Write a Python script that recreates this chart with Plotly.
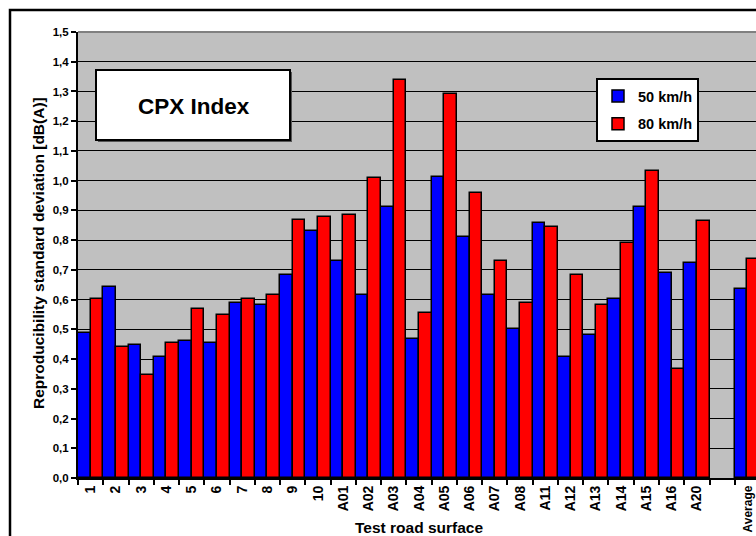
import plotly.graph_objects as go

# Test road surfaces (blank slot separates the average)
surfaces = ["1", "2", "3", "4", "5", "6", "7", "8", "9", "10",
            "A01", "A02", "A03", "A04", "A05", "A06", "A07", "A08",
            "A11", "A12", "A13", "A14", "A15", "A16", "A20", " ", "Average"]

# Reproducibility standard deviation, dB(A)
sd_50 = [0.488, 0.642, 0.447, 0.407, 0.461, 0.454, 0.588, 0.582, 0.682, 0.830,
         0.729, 0.615, 0.910, 0.467, 1.011, 0.810, 0.615, 0.501,
         0.857, 0.407, 0.481, 0.602, 0.910, 0.689, 0.722, None, 0.635]
sd_80 = [0.602, 0.441, 0.347, 0.454, 0.568, 0.548, 0.602, 0.615, 0.869, 0.877,
         0.884, 1.010, 1.340, 0.555, 1.292, 0.957, 0.729, 0.588,
         0.843, 0.682, 0.582, 0.790, 1.031, 0.367, 0.863, None, 0.736]

y_ticks = [i / 10 for i in range(16)]

W, H = 756, 536
L, R, T, B = 78, 0, 32, 58
PW, PH = W - L - R, H - T - B

FONT = "Liberation Sans, Arial, sans-serif"


def px(x):
    return (x - L) / PW


def py(y):
    return (H - B - y) / PH


# the long last label is set a little smaller so it stays on the page
tick_text = [s if s != "Average" else '<span style="font-size:12px">Average</span>'
             for s in surfaces]

fig = go.Figure()
fig.add_trace(go.Bar(
    x=surfaces, y=sd_50, name="50 km/h", legendgroup="a",
    marker=dict(color="#0000FF", line=dict(color="black", width=1.5)),
))
fig.add_trace(go.Bar(
    x=surfaces, y=sd_80, name="80 km/h", legendgroup="b",
    marker=dict(color="#FF0000", line=dict(color="black", width=1.5)),
))

n = len(surfaces)
unit = 25.26
fig.update_layout(
    width=W, height=H,
    margin=dict(l=L, r=R, t=T, b=B, pad=0, autoexpand=False),
    paper_bgcolor="white",
    plot_bgcolor="#C0C0C0",
    barmode="group", bargap=0, bargroupgap=0,
    separators=",.",
    font=dict(family=FONT, color="black", size=12, weight="bold"),
    showlegend=True,
    legend=dict(
        x=px(596), y=py(78), xanchor="left", yanchor="top",
        bgcolor="white", bordercolor="black", borderwidth=2,
        font=dict(family=FONT, size=14.5, weight="bold"),
        tracegroupgap=6,
    ),
    xaxis=dict(
        type="category", categoryorder="array", categoryarray=surfaces,
        tickmode="array", tickvals=surfaces, ticktext=tick_text,
        range=[-0.5, n - 0.5 - (L + n * unit - W) / unit],
        tickson="boundaries", ticks="outside", ticklen=5, tickwidth=1.5,
        tickcolor="black", tickangle=-90, automargin=False,
        tickfont=dict(family=FONT, size=14, weight="bold"),
        showgrid=False, showline=True, linecolor="black", linewidth=2,
        zeroline=False,
    ),
    yaxis=dict(
        range=[0, 1.5], tickvals=y_ticks, tickformat=".1f", automargin=False,
        ticks="outside", ticklen=5, tickwidth=1.5, tickcolor="black",
        tickfont=dict(family=FONT, size=11.5, weight="bold"),
        showgrid=True, gridcolor="black", gridwidth=1.3,
        showline=True, linecolor="black", linewidth=2, zeroline=False,
    ),
)

shapes = [
    # top edge of the plot area
    dict(type="line", xref="paper", yref="paper", x0=0, x1=1.01, y0=1, y1=1,
         line=dict(color="#808080", width=2), layer="above"),
    # outer chart frame
    dict(type="rect", xref="paper", yref="paper",
         x0=px(10), x1=px(W + 20), y0=py(10), y1=py(H + 20),
         line=dict(color="black", width=2.5), fillcolor="rgba(0,0,0,0)",
         layer="above"),
    # title box shadow and box
    dict(type="rect", xref="paper", yref="paper",
         x0=px(98), x1=px(292), y0=py(72), y1=py(142),
         line=dict(width=0), fillcolor="#555555", layer="above"),
    dict(type="rect", xref="paper", yref="paper",
         x0=px(96), x1=px(290), y0=py(70), y1=py(140),
         line=dict(color="black", width=2), fillcolor="white", layer="above"),
]
fig.update_layout(shapes=shapes)

fig.add_annotation(
    xref="paper", yref="paper", x=px(194), y=py(106),
    xanchor="center", yanchor="middle",
    text="CPX Index", showarrow=False,
    font=dict(family=FONT, size=22.5, weight="bold"),
)
fig.add_annotation(
    xref="paper", yref="paper", x=px(419), y=py(527),
    xanchor="center", yanchor="middle",
    text="Test road surface", showarrow=False,
    font=dict(family=FONT, size=15.5, weight="bold"),
)
fig.add_annotation(
    xref="paper", yref="paper", x=px(38), y=py(253),
    xanchor="center", yanchor="middle",
    text="Reproducibility standard deviation [dB(A)]", showarrow=False,
    textangle=-90,
    font=dict(family=FONT, size=15.5, weight="bold"),
)

fig.write_html("out.html")
